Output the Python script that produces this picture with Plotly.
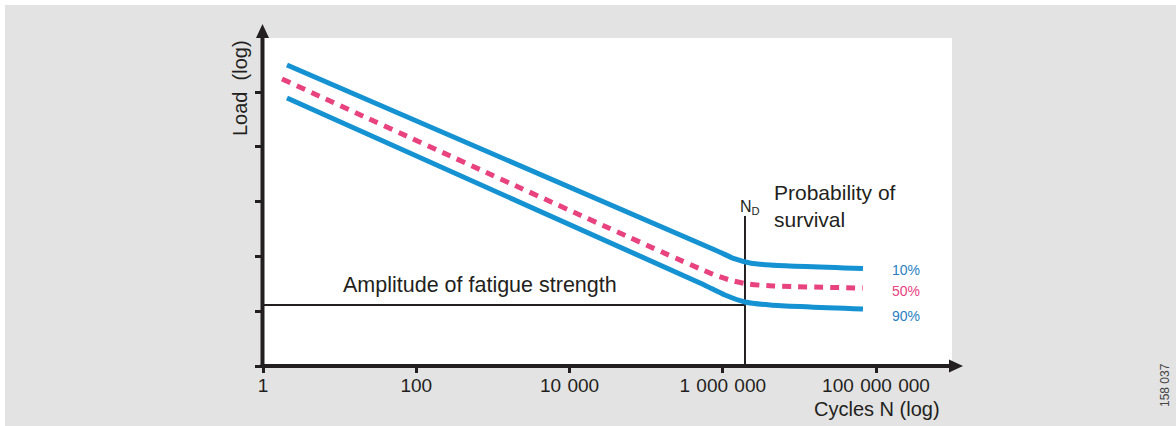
import plotly.graph_objects as go

# ---- data (x = log10 of cycles N, y = log of load, arbitrary decades) ----
tick_vals_x = [0, 2, 4, 6, 8]
tick_text_x = ["1", "100", "10\u2004000", "1\u2004000\u2004000", "100\u2004000\u2004000"]
tick_vals_y = [0, 1, 2, 3, 4, 5]

p10_x = [0.313, 5.899, 6.160, 6.356, 6.617, 7.830]
p10_y = [5.493, 2.117, 1.953, 1.880, 1.843, 1.779]
p50_x = [0.248, 5.832, 6.093, 6.330, 6.656, 7.830]
p50_y = [5.237, 1.697, 1.569, 1.496, 1.460, 1.423]
p90_x = [0.313, 5.703, 6.029, 6.290, 6.617, 7.830]
p90_y = [4.891, 1.515, 1.296, 1.168, 1.113, 1.040]

nd_log = 6.29        # N_D (knee point)
nd_top = 2.737       # top of N_D marker line
amp_y = 1.113        # amplitude of fatigue strength

labels = ["10%", "50%", "90%"]
label_y = [1.752, 1.369, 0.912]
label_x = 8.392

# ---- styling ----
W, H = 1176, 426
L, R, T, B = 263, 952, 38, 366
BLUE = "#1592d2"
BLUE_T = "#2a7fc2"
PINK = "#e8437f"
DARK = "#231f20"
GRAY = "#e3e3e3"
FONT = "Liberation Sans, Arial, sans-serif"


def px(xp):
    return (xp - L) / (R - L)


def py(yp):
    return (B - yp) / (B - T)


fig = go.Figure()

fig.add_trace(go.Scatter(x=[0, nd_log], y=[amp_y, amp_y], mode="lines",
                         line=dict(color=DARK, width=2), hoverinfo="skip"))
fig.add_trace(go.Scatter(x=[nd_log, nd_log], y=[0, nd_top], mode="lines",
                         line=dict(color=DARK, width=2), hoverinfo="skip"))
fig.add_trace(go.Scatter(x=p10_x, y=p10_y, mode="lines",
                         line=dict(color=BLUE, width=5, shape="spline", smoothing=0.7)))
fig.add_trace(go.Scatter(x=p90_x, y=p90_y, mode="lines",
                         line=dict(color=BLUE, width=5, shape="spline", smoothing=0.7)))
fig.add_trace(go.Scatter(x=p50_x, y=p50_y, mode="lines",
                         line=dict(color=PINK, width=5, dash="9px,7px",
                                   shape="spline", smoothing=0.7)))

ann = []
for t, yv, c in zip(labels, label_y, [BLUE_T, PINK, BLUE_T]):
    ann.append(dict(x=label_x, y=yv, xref="x", yref="y", text=t, showarrow=False,
                    xanchor="center", yanchor="middle",
                    font=dict(size=14, color=c, family=FONT)))

ann += [
    dict(x=px(480), y=py(285), xref="paper", yref="paper",
         xanchor="center", yanchor="middle",
         text="Amplitude of fatigue strength", showarrow=False,
         font=dict(size=21.5, color=DARK, family=FONT)),
    dict(x=px(772), y=py(206), xref="paper", yref="paper", xanchor="left",
         yanchor="middle", align="left", text="Probability of<br>survival",
         showarrow=False, font=dict(size=21, color=DARK, family=FONT)),
    dict(x=px(750), y=py(207), xref="paper", yref="paper",
         xanchor="center", yanchor="middle",
         text="N<sub>D</sub>", showarrow=False,
         font=dict(size=16, color=DARK, family=FONT)),
    dict(x=px(877), y=py(409), xref="paper", yref="paper",
         xanchor="center", yanchor="middle",
         text="Cycles N (log)", showarrow=False,
         font=dict(size=20, color=DARK, family=FONT)),
    dict(x=px(240), y=py(88), xref="paper", yref="paper", textangle=-90,
         xanchor="center", yanchor="middle",
         text="Load\u00a0 (log)", showarrow=False,
         font=dict(size=20, color=DARK, family=FONT)),
    dict(x=px(1165), y=py(385), xref="paper", yref="paper", textangle=-90,
         xanchor="center", yanchor="middle",
         text="158 037", showarrow=False,
         font=dict(size=12, color="#444444", family=FONT)),
]

shapes = [
    # white border strips
    dict(type="rect", xref="paper", yref="paper", x0=px(0), x1=px(W), y0=py(0), y1=py(5),
         fillcolor="white", line=dict(width=0), layer="above"),
    dict(type="rect", xref="paper", yref="paper", x0=px(0), x1=px(5), y0=py(0), y1=py(H),
         fillcolor="white", line=dict(width=0), layer="above"),
    # axes
    dict(type="line", xref="paper", yref="paper", x0=px(262.5), x1=px(262.5),
         y0=py(368), y1=py(37), line=dict(color=DARK, width=4), layer="above"),
    dict(type="line", xref="paper", yref="paper", x0=px(260.5), x1=px(951),
         y0=py(366), y1=py(366), line=dict(color=DARK, width=4), layer="above"),
    dict(type="path", xref="paper", yref="paper",
         path=f"M {px(256)} {py(38)} L {px(262.5)} {py(24)} L {px(269)} {py(38)} Z",
         fillcolor=DARK, line=dict(width=0), layer="above"),
    dict(type="path", xref="paper", yref="paper",
         path=f"M {px(949)} {py(359.5)} L {px(963)} {py(366)} L {px(949)} {py(372.5)} Z",
         fillcolor=DARK, line=dict(width=0), layer="above"),
]

fig.update_layout(
    width=W, height=H,
    margin=dict(l=L, r=W - R, t=T, b=H - B, pad=0),
    paper_bgcolor=GRAY, plot_bgcolor="white",
    showlegend=False,
    annotations=ann, shapes=shapes,
    font=dict(family=FONT, color=DARK),
    xaxis=dict(range=[0, (R - L) / 76.625], tickmode="array", tickvals=tick_vals_x,
               ticktext=tick_text_x, ticks="outside", ticklen=6, tickwidth=2.5,
               tickcolor=DARK, showgrid=False, zeroline=False, showline=False,
               ticklabelstandoff=-4,
               tickfont=dict(size=19, color=DARK, family=FONT), fixedrange=True),
    yaxis=dict(range=[0, (B - T) / 54.8], tickmode="array", tickvals=tick_vals_y,
               ticks="outside", ticklen=7, tickwidth=2.5, tickcolor=DARK,
               showticklabels=False, showgrid=False, zeroline=False, showline=False,
               fixedrange=True),
)

fig.write_html("out.html")
